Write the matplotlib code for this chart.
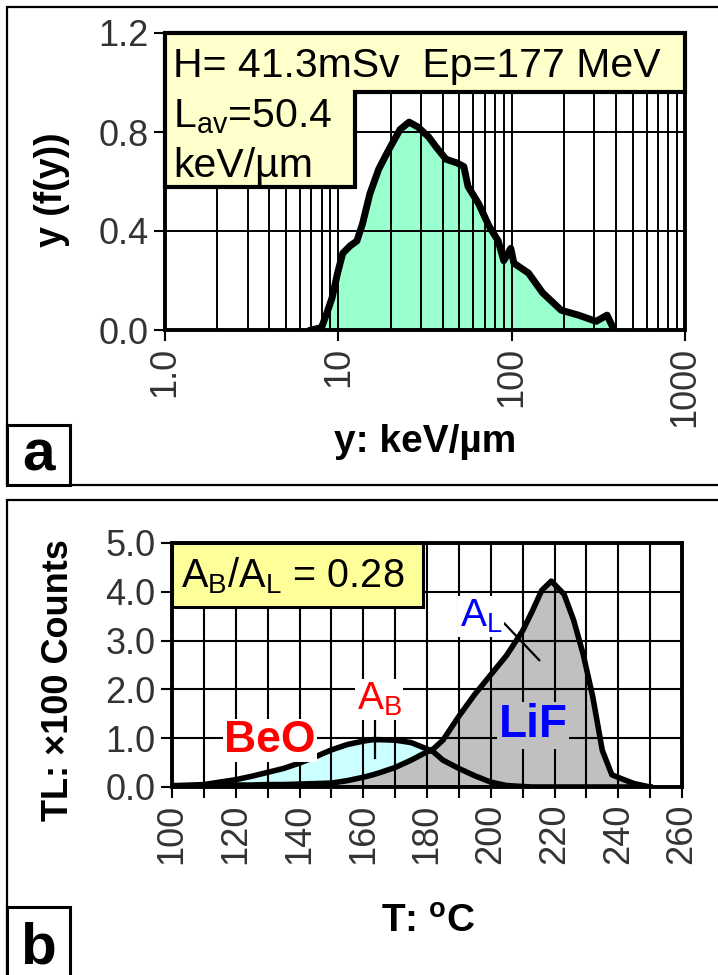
import numpy as np
import matplotlib
matplotlib.use("Agg")
import matplotlib.pyplot as plt
from matplotlib.patches import Rectangle, Polygon
from matplotlib.ticker import FixedLocator, MultipleLocator, NullFormatter

plt.rcParams["font.family"] = ["Liberation Sans", "DejaVu Sans"]
plt.rcParams["mathtext.fontset"] = "custom"
plt.rcParams["mathtext.rm"] = "Liberation Sans"
plt.rcParams["mathtext.bf"] = "Liberation Sans:bold"
plt.rcParams["mathtext.it"] = "Liberation Sans:italic"

W, H = 718, 975

### panel a data: lineal energy spectrum y f(y)
lin_energy = [7.0, 8.0, 8.6, 9.2, 9.9, 10.6, 11.7, 12.8, 13.8, 15.2,
              17.1, 19.6, 22.7, 25.6, 28.8, 33.2, 36.6, 41.8, 48.4, 53.0,
              56.0, 64.5, 74.0, 83.6, 90.0, 98.8, 103, 125, 151, 193,
              243, 307, 355, 390]
yfy = [0.0, 0.01, 0.07, 0.13, 0.23, 0.31, 0.34, 0.36, 0.43, 0.55,
       0.65, 0.73, 0.81, 0.84, 0.82, 0.78, 0.74, 0.69, 0.675, 0.66,
       0.58, 0.51, 0.42, 0.36, 0.28, 0.33, 0.27, 0.23, 0.15, 0.08,
       0.06, 0.035, 0.06, 0.0]
a_xticks = [1, 10, 100, 1000]
a_xticklabels = ["1.0", "10", "100", "1000"]
a_yticks = [0.0, 0.4, 0.8, 1.2]

### panel b data: glow curves
temp = [100, 110, 120, 125, 130, 135, 140, 145, 150, 155,
        160, 163, 165, 170, 175, 180, 182, 185, 190, 195,
        200, 205, 210, 213, 216, 219, 223, 226, 229, 232,
        235, 238, 241, 245, 250]
beo = [0.02, 0.05, 0.15, 0.22, 0.30, 0.38, 0.49, 0.62, 0.76, 0.87,
       0.94, 0.97, 0.97, 0.96, 0.91, 0.78, 0.72, 0.55, 0.38, 0.23,
       0.10, 0.03, 0.01, 0, 0, 0, 0, 0, 0, 0,
       0, 0, 0, 0, 0]
lif = [0.03, 0.03, 0.04, 0.04, 0.05, 0.05, 0.06, 0.07, 0.08, 0.13,
       0.20, 0.25, 0.29, 0.40, 0.55, 0.72, 0.78, 0.96, 1.45, 1.90,
       2.30, 2.70, 3.20, 3.60, 4.03, 4.22, 3.95, 3.42, 2.72, 1.85,
       0.75, 0.25, 0.17, 0.07, 0.0]
b_xticks = list(range(100, 261, 20))
b_yticks = [0.0, 1.0, 2.0, 3.0, 4.0, 5.0]


def fx(x):
    return x / W


def fy(y):
    return 1 - y / H


fig = plt.figure(figsize=(W / 100, H / 100), dpi=100)

### outer frames and panel letters
for top, bot in [(7, 485), (500, 990)]:
    fig.add_artist(Rectangle((fx(7), fy(bot)), fx(760 - 7), (bot - top) / H,
                             transform=fig.transFigure, fill=False,
                             edgecolor="black", linewidth=1.6))
for top, bot, letter, base in [(425, 485, "a", 470), (907, 990, "b", 964)]:
    fig.add_artist(Rectangle((fx(7), fy(bot)), fx(70 - 7), (bot - top) / H,
                             transform=fig.transFigure, facecolor="white",
                             edgecolor="black", linewidth=2.2))
    fig.text(fx(38), fy(base), letter, fontsize=42, fontweight="bold",
             ha="center", va="baseline")

tick_color = "#333333"

###panel a
ax = fig.add_axes([fx(165), fy(330), fx(520), 297 / H])
ax.set_xscale("log")
ax.fill_between(lin_energy, 0, yfy, color="#99ffcc", linewidth=0, zorder=1)
ax.plot(lin_energy, yfy, color="black", linewidth=5, zorder=3)
ax.set_xlim(1, 1000)
ax.set_ylim(0, 1.2)
ax.set_axisbelow(False)
ax.xaxis.set_major_locator(FixedLocator(a_xticks))
ax.xaxis.set_minor_locator(FixedLocator(
    [m * d for d in (1, 10, 100) for m in range(2, 10)]))
ax.xaxis.set_minor_formatter(NullFormatter())
ax.set_xticklabels(a_xticklabels, rotation=90)
ax.set_yticks(a_yticks)
ax.set_yticklabels([f"{v:.1f}" for v in a_yticks])
ax.grid(which="both", axis="x", color="black", linewidth=1.4)
ax.grid(which="major", axis="y", color="black", linewidth=1.4)
ax.tick_params(which="major", length=8, width=1.5, labelsize=26,
               labelcolor=tick_color, pad=4)
ax.tick_params(which="minor", length=0)
for s in ax.spines.values():
    s.set_linewidth(2.8)

box = Polygon([(0, 1), (1, 1), (1, 0.801), (0.365, 0.801), (0.365, 0.4815),
               (0, 0.4815)], closed=True, transform=ax.transAxes,
              facecolor="#ffffcc", edgecolor="black", linewidth=3,
              zorder=5, clip_on=False)
ax.add_patch(box)
ax.text(0.015, 0.852, "H= 41.3mSv  Ep=177 MeV", transform=ax.transAxes,
        fontsize=29.5, va="baseline", ha="left", zorder=6)
ax.text(0.015, 0.683, r"L$_{\mathrm{av}}$=50.4", transform=ax.transAxes,
        fontsize=29.5, va="baseline", ha="left", zorder=6)
ax.text(0.015, 0.515, "keV/µm", transform=ax.transAxes,
        fontsize=29.5, va="baseline", ha="left", zorder=6)

fig.text(fx(52), fy(190), "y (f(y))", rotation=90, fontsize=27,
         fontweight="bold", ha="center", va="center")
fig.text(fx(425), fy(452), "y: keV/µm", fontsize=28, fontweight="bold",
         ha="center", va="baseline")

###panel b
bx = fig.add_axes([fx(172), fy(787), fx(510), 244 / H])
T = np.array(temp)
B = np.array(beo)
L = np.array(lif)
bx.fill_between(T, 0, L, color="#c0c0c0", linewidth=0, zorder=1)
bx.fill_between(T, L, B, where=B > L, interpolate=True, color="#ccffff",
                linewidth=0, zorder=1)
bx.plot(T, B, color="black", linewidth=4, zorder=3)
bx.plot(T, L, color="black", linewidth=4, zorder=3)
bx.set_xlim(100, 260)
bx.set_ylim(0, 5)
bx.set_axisbelow(False)
bx.set_xticks(b_xticks)
bx.set_xticklabels([str(t) for t in b_xticks], rotation=90)
bx.xaxis.set_minor_locator(MultipleLocator(10))
bx.set_yticks(b_yticks)
bx.set_yticklabels([f"{v:.1f}" for v in b_yticks])
bx.grid(which="both", axis="x", color="black", linewidth=1.5)
bx.grid(which="major", axis="y", color="black", linewidth=1.5)
bx.tick_params(which="both", length=8, width=1.5, labelsize=26,
               labelcolor=tick_color, pad=4)
for s in bx.spines.values():
    s.set_linewidth(2.8)

bx.add_patch(Rectangle((0, 0.738), 0.492, 0.262, transform=bx.transAxes,
                       facecolor="#ffff99", edgecolor="black", linewidth=2.2,
                       zorder=5, clip_on=False))
bx.text(0.018, 0.82, r"A$_{\mathrm{B}}$/A$_{\mathrm{L}}$ = 0.28",
        transform=bx.transAxes, fontsize=28.5, va="baseline", ha="left",
        zorder=6)

# annotations
bx.text(130.7, 0.72, "BeO", color="#ff0000", fontsize=32, fontweight="bold",
        ha="center", va="baseline", zorder=6,
        bbox=dict(facecolor="white", edgecolor="none", pad=1))
bx.text(213.3, 1.02, "LiF", color="#0000ff", fontsize=33, fontweight="bold",
        ha="center", va="baseline", zorder=6,
        bbox=dict(facecolor="#c0c0c0", edgecolor="none", pad=1))
bx.text(158, 1.58, r"A$_{\mathrm{B}}$", color="#ff0000", fontsize=28,
        ha="left", va="baseline", zorder=6,
        bbox=dict(facecolor="white", edgecolor="none", pad=1))
bx.plot([163.6, 163.6], [1.45, 0.6], color="black", linewidth=1.6, zorder=4)
bx.text(190.2, 3.28, r"A$_{\mathrm{L}}$", color="#0000ff", fontsize=28,
        ha="left", va="baseline", zorder=6,
        bbox=dict(facecolor="white", edgecolor="none", pad=1))
bx.plot([204.3, 215.2], [3.35, 2.6], color="black", linewidth=1.6, zorder=4)

fig.text(fx(58), fy(680), "TL: ×100 Counts", rotation=90, fontsize=26,
         fontweight="bold", ha="center", va="center")
fig.text(fx(428), fy(932), r"T: $^{\mathbf{o}}$C", fontsize=28,
         fontweight="bold", ha="center", va="baseline")

fig.savefig("out.png", dpi=100)
